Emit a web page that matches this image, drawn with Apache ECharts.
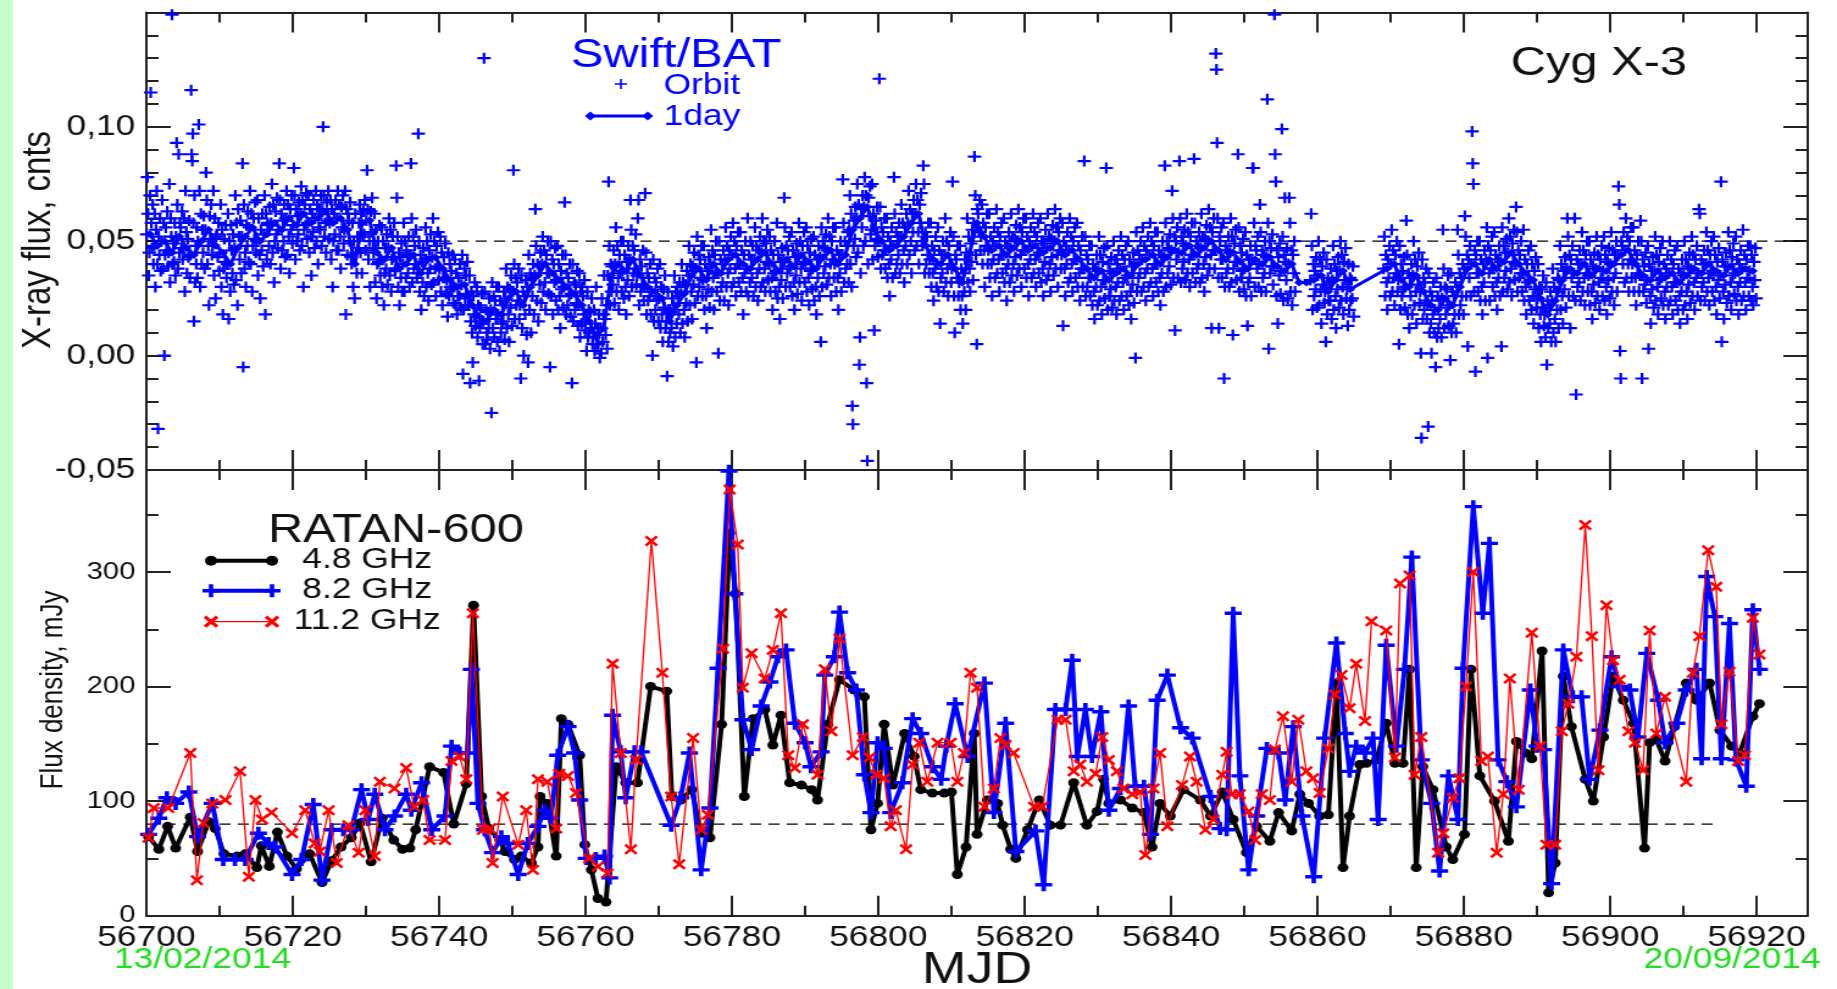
<!DOCTYPE html>
<html>
<head>
<meta charset="utf-8">
<title>Cyg X-3: Swift/BAT and RATAN-600</title>
<script src="https://cdn.jsdelivr.net/npm/echarts@6/dist/echarts.min.js"></script>
<style>
  html, body { margin: 0; padding: 0; background: #fff; overflow: hidden; width: 1837px; height: 989px; }
  /* the figure is laid out on a 1506px wide canvas and widened to the page width */
  #wrap { position: absolute; left: 0; top: 0; width: 1506px; height: 989px; transform: scaleX(1.21979); transform-origin: 0 0; }
  #chart { width: 1506px; height: 989px; }
</style>
</head>
<body>
<div id="wrap"><div id="chart"></div></div>
<script>
// ---------------- data ----------------
const MJD_START = 56700;
const MJD_END = 56927;

// Swift/BAT 1-day averaged flux, 10^-3 cnts, one value per MJD day starting at 56700 (null = no data)
const dailyFlux = [
  53,48,50,45,52,47,44,50,55,48,
  45,40,47,52,56,50,53,58,55,60,
  57,62,58,60,63,58,60,55,40,58,
  59,45,42,47,38,40,44,36,42,43,
  38,33,30,31,22,17,15,20,18,25,
  28,22,30,35,40,36,33,30,27,22,
  15,8,12,35,40,37,42,35,30,28,
  25,15,22,27,35,38,33,40,36,42,
  44,40,38,42,45,40,37,42,39,44,
  41,38,43,46,40,44,55,60,65,55,
  50,46,48,52,58,62,48,42,40,44,
  38,32,45,58,52,46,48,44,47,50,
  46,48,45,47,50,44,46,42,38,34,
  37,33,36,38,35,40,42,44,40,43,
  46,45,48,44,47,50,46,42,45,41,
  38,42,40,43,39,37,40,32,32,33,
  35,28,33,37,29,null,null,null,null,38,
  40,33,30,35,28,22,20,25,22,30,
  38,40,36,42,38,41,45,40,36,33,
  25,18,24,33,38,36,40,35,38,37,
  40,44,46,40,35,33,37,34,36,32,
  35,38,36,40,37,35,39,36,38,37
];

// Swift/BAT single-orbit flux, 10^-3 cnts, grouped by MJD day starting at 56700
const orbitFlux = [
  [53,78,62,35,45,70,115,58,47,66,40],[48,62,30,55,72,40,-32,52,44,60,37],[50,68,38,58,0,44,56,46,63,39],
  [45,75,32,60,52,149,40,49,41,58,35],[52,93,66,38,88,45,58,56,47,63,42],[47,60,28,72,54,36,51,43,59,34],
  [44,116,88,85,97,58,15,70,32,48,40,56,34],[50,101,72,30,62,40,55,45,61,38],[55,80,68,40,48,22,61,51,66,44],
  [48,72,35,60,25,52,53,43,58,37],[45,66,30,55,18,38,51,41,57,34],[40,62,16,50,28,57,46,36,53,31],
  [47,70,33,58,22,64,52,42,59,36],[52,84,-5,66,38,45,30,57,48,63,41],[56,72,40,62,28,48,60,51,67,45],
  [50,68,35,60,44,25,55,46,62,39],[53,70,18,62,42,58,57,48,65,40],[58,75,45,66,32,50,63,53,69,47],
  [55,84,68,38,62,46,59,50,66,43],[60,72,44,66,52,36,64,55,70,49],[57,82,70,42,64,50,61,53,67,46],
  [62,74,48,68,30,55,66,57,71,51],[58,70,45,64,52,35,62,54,68,47],[60,72,50,66,40,56,64,55,70,48],
  [63,100,70,52,58,45,67,59,72,51],[58,68,42,64,30,50,62,53,68,46],[60,72,46,66,52,38,65,56,70,49],
  [55,72,18,64,44,62,59,50,67,43],[40,58,30,50,25,62,45,36,52,47],[58,66,45,62,36,52,63,53,68,46],
  [59,81,64,42,50,30,63,54,69,47],[45,62,32,55,25,40,50,41,57,35],[42,56,30,50,22,36,47,38,53,31],
  [47,60,35,55,28,42,52,43,58,37],[38,83,69,52,30,45,22,43,34,49,28],[40,58,28,50,34,46,44,36,52,30],
  [44,84,60,32,52,38,48,40,55,34],[36,97,50,28,44,20,41,32,47,26],[42,56,30,50,36,24,46,38,53,31],
  [43,60,32,50,38,26,48,39,54,33],[38,52,28,45,22,34,43,34,49,27],[33,17,45,26,40,30,37,29,44,23],
  [30,42,22,36,18,26,34,26,40,21],[31,44,-8,20,38,25,35,27,41,22],[22,35,-12,15,28,10,-3,26,18,32,13],
  [17,30,8,22,-11,12,21,14,27,5],[15,130,28,5,20,10,7,19,12,25,3],[20,-25,32,12,26,8,24,16,30,6],
  [18,30,2,24,10,14,22,15,28,7],[25,38,12,30,18,6,29,21,35,13],[28,81,40,16,34,22,32,24,38,16],
  [22,-10,35,12,28,0,26,18,33,9],[30,-3,44,20,36,10,34,26,40,18],[35,64,48,24,40,15,39,31,45,23],
  [40,52,28,46,32,20,44,36,50,27],[36,-5,50,26,42,18,40,32,47,24],[33,48,20,40,26,12,37,29,44,21],
  [30,67,44,18,36,22,34,26,40,17],[27,-12,40,15,32,20,31,23,37,13],[22,36,8,28,14,30,26,18,33,11],
  [15,2,28,8,20,10,19,12,25,5],[8,20,2,14,30,5,12,5,18,-1],[12,1,25,6,18,35,16,9,22,3],
  [35,76,48,22,40,28,39,31,46,23],[40,56,28,48,34,20,44,36,50,28],[37,50,25,44,30,18,41,33,48,26],
  [42,68,55,30,48,36,46,38,53,31],[35,60,68,22,42,28,39,31,46,24],[30,71,45,18,36,24,34,26,40,18],
  [28,0,42,15,34,20,32,24,38,15],[25,40,12,30,18,6,29,21,35,12],[15,-9,28,6,20,10,19,12,25,4],
  [22,35,8,28,14,30,26,18,32,10],[27,40,14,32,20,8,31,23,37,15],[35,48,22,40,28,16,39,31,45,23],
  [38,-3,52,26,44,30,42,34,48,26],[33,48,20,40,26,12,37,29,43,21],[40,55,28,46,34,20,44,36,50,28],
  [36,1,50,24,42,30,40,32,46,24],[42,56,30,48,36,22,46,38,52,30],[44,58,32,50,38,26,48,40,54,32],
  [40,54,28,46,34,18,44,36,50,28],[38,60,26,44,32,50,42,34,48,26],[42,56,30,48,36,24,46,38,52,30],
  [45,60,32,50,38,28,49,41,55,33],[40,52,28,46,34,20,44,36,50,28],[37,58,25,44,30,16,41,33,47,25],
  [42,69,56,30,48,36,46,38,52,30],[39,54,26,46,32,20,43,35,49,27],[44,58,32,50,38,24,48,40,54,32],
  [41,56,28,48,34,22,45,37,51,29],[38,52,24,44,30,18,42,34,48,26],[43,6,56,30,50,36,47,39,53,31],
  [46,60,34,52,40,26,50,42,56,34],[40,56,28,46,34,20,44,36,50,28],[44,77,58,32,50,38,48,40,54,32],
  [55,70,40,62,30,-22,-30,48,59,51,65,43],[60,75,45,66,-4,8,36,64,56,70,48],[65,78,50,70,-12,-46,40,69,61,74,53],
  [55,75,42,62,11,48,59,51,65,43],[50,121,65,38,56,44,54,46,60,38],[46,60,34,52,40,26,50,42,56,34],
  [48,78,62,36,54,40,52,44,58,36],[52,66,40,58,46,32,56,48,62,40],[58,72,44,64,50,36,62,54,68,46],
  [62,75,48,68,54,40,66,58,71,50],[48,83,75,36,54,40,52,44,58,36],[42,58,30,48,36,24,46,38,52,30],
  [40,56,28,46,14,34,44,36,50,28],[44,60,32,50,38,26,48,40,54,32],[38,76,52,26,10,44,42,34,48,26],
  [32,48,20,38,26,14,36,28,42,20],[45,60,32,52,38,28,49,41,55,33],[58,87,70,44,5,64,62,54,68,46],
  [52,66,40,58,46,30,56,48,62,40],[46,62,34,52,40,26,50,42,56,34],[48,64,36,54,42,28,52,44,58,36],
  [44,60,32,50,38,24,48,40,54,32],[47,62,35,52,40,28,51,43,57,35],[50,64,38,56,44,30,54,46,60,38],
  [46,60,34,52,40,26,50,42,56,34],[48,62,36,54,42,30,52,44,58,36],[45,60,32,50,38,26,49,41,55,33],
  [47,62,35,52,40,28,51,43,57,35],[50,64,38,56,44,30,54,46,60,38],[44,58,13,50,38,26,48,40,54,32],
  [46,60,34,52,40,28,50,42,56,34],[42,58,30,48,36,24,46,38,52,30],[38,85,52,26,44,30,42,34,48,26],
  [34,48,22,40,28,16,38,30,44,22],[37,52,24,44,30,18,41,33,47,25],[33,82,48,20,40,26,37,29,43,21],
  [36,50,24,42,30,18,40,32,46,24],[38,52,26,44,32,20,42,34,48,26],[35,50,22,42,28,16,39,31,45,23],
  [40,-1,54,28,46,34,44,36,50,28],[42,56,30,48,36,24,46,38,52,30],[44,58,32,50,38,26,48,40,54,32],
  [40,54,28,46,34,22,44,36,50,28],[43,83,58,30,50,36,47,39,53,31],[46,72,60,34,52,11,50,42,56,34],
  [45,85,60,32,52,38,49,41,55,33],[48,62,36,54,42,30,52,44,58,36],[44,86,58,32,50,38,48,40,54,32],
  [47,62,34,52,40,28,51,43,57,35],[50,64,38,56,44,12,54,46,60,38],[46,132,125,93,60,34,12,52,50,42,56,34],
  [42,58,-10,30,48,36,46,38,52,30],[45,60,32,52,9,38,49,41,55,33],[41,88,56,28,48,34,45,37,51,29],
  [38,54,26,44,13,32,42,34,48,26],[42,82,82,58,30,48,46,38,52,30],[40,66,54,28,46,34,44,36,50,28],
  [43,112,58,3,50,36,47,39,53,31],[39,149,88,76,26,46,14,43,35,49,27],[37,99,52,24,44,69,41,33,47,25],
  [40,69,58,28,46,22,44,36,50,28],[],[],
  [33,62,48,20,40,26,37,29,43,21],[35,50,22,42,28,14,39,31,45,23],[28,6,42,18,34,24,32,24,38,16],
  [33,48,20,40,26,12,37,29,43,21],[37,50,24,44,30,18,41,33,47,25],[29,13,40,20,34,24,33,25,39,17],
  [],[],[],[],
  [38,52,26,44,32,20,42,34,48,26],[40,55,28,46,34,22,44,36,50,28],[33,5,48,20,40,26,37,29,43,21],
  [30,59,44,18,36,12,34,26,40,18],[35,50,22,42,28,14,39,31,45,23],[28,1,-36,42,16,34,20,32,24,38,16],
  [22,-31,36,10,28,14,1,26,18,32,10],[20,-5,34,8,26,12,24,16,30,8],[25,55,38,12,30,18,29,21,35,13],
  [22,-2,36,10,28,14,26,18,32,10],[30,55,44,18,36,22,34,26,40,18],[38,61,52,26,44,4,42,34,48,26],
  [40,98,84,75,28,46,-7,44,36,50,28],[36,50,24,42,30,18,40,32,46,24],[42,56,-1,48,36,24,46,38,52,30],
  [38,54,26,44,32,20,42,34,48,26],[41,4,56,28,48,34,45,37,51,29],[45,60,32,52,38,26,49,41,55,33],
  [40,65,54,28,46,34,44,36,50,28],[36,55,24,42,30,18,40,32,46,24],[33,48,20,40,26,14,37,29,43,21],
  [25,40,12,30,18,6,29,21,35,13],[18,8,32,-4,24,12,22,14,28,6],[24,38,10,30,16,6,28,20,34,12],
  [33,48,20,40,26,14,37,29,43,21],[38,60,52,26,44,12,42,34,48,26],[36,60,24,-17,42,30,40,32,46,24],
  [40,54,28,46,34,22,44,36,50,28],[35,50,22,42,28,16,39,31,45,23],[38,52,26,44,32,20,42,34,48,26],
  [37,52,24,44,30,18,41,33,47,25],[40,54,28,46,34,22,44,36,50,28],[44,74,66,2,-10,50,48,40,54,32],
  [46,60,34,52,40,28,50,42,56,34],[40,56,28,46,34,22,44,36,50,28],[35,59,50,-10,42,28,39,31,45,23],
  [33,48,3,40,26,14,37,29,43,21],[37,52,24,44,30,18,41,33,47,25],[34,50,22,40,28,16,38,30,44,22],
  [36,50,24,42,30,18,40,32,46,24],[32,48,20,38,26,14,36,28,42,20],[35,50,22,42,28,16,39,31,45,23],
  [38,52,26,44,32,20,42,34,48,26],[36,64,62,24,42,30,40,32,46,24],[40,54,28,46,34,22,44,36,50,28],
  [37,52,24,44,30,18,41,33,47,25],[35,76,6,42,28,16,39,31,45,23],[39,54,26,46,32,20,43,35,49,27],
  [36,52,24,42,30,18,40,32,46,24],[38,55,26,44,32,20,42,34,48,26],[37,48,24,44,30,22,41,33,47,25]
];

// RATAN-600 flux density, [MJD, mJy]
const ratan48 = [
  [56700.3,69],[56701.7,58],[56702.9,78],[56704.0,59],[56706.0,86],[56707.0,56],[56708.5,82],[56709.4,76],
  [56710.6,54],[56712.4,52],[56713.5,54],[56715.1,42],[56715.7,61],[56716.8,43],[56717.9,73],[56719.2,52],
  [56720.5,41],[56722.3,54],[56724.0,29],[56725.3,48],[56726.6,60],[56728.0,68],[56729.2,81],[56730.7,47],
  [56732.2,85],[56733.8,66],[56735.0,58],[56736.0,59],[56736.8,75],[56738.7,130],[56740.6,125],[56742.0,80],
  [56743.7,115],[56744.7,271],[56745.8,104],[56746.8,76],[56748.3,66],[56749.0,56],[56750.3,49],[56751.2,52],
  [56752.6,46],[56753.5,60],[56753.8,104],[56754.8,98],[56756.0,52],[56756.7,172],[56757.6,167],[56759.2,140],
  [56759.9,62],[56760.8,40],[56761.7,15],[56762.8,12],[56764.2,130],[56765.5,116],[56767.1,116],[56768.9,200],
  [56771.1,196],[56771.8,104],[56773.0,101],[56774.5,110],[56775.8,72],[56777.0,68],[56778.6,167],[56779.7,334],
  [56780.5,281],[56781.7,104],[56782.9,172],[56784.5,180],[56785.6,149],[56786.7,175],[56787.9,116],[56789.5,114],
  [56790.9,110],[56791.7,101],[56793.1,167],[56794.7,206],[56796.7,197],[56798.1,191],[56799.0,75],[56799.9,98],
  [56800.8,167],[56802.0,114],[56803.6,159],[56804.9,139],[56805.8,110],[56807.4,107],[56809.0,107],[56810.0,108],
  [56810.8,36],[56812.0,60],[56813.1,159],[56813.5,71],[56814.9,101],[56816.3,98],[56817.0,79],[56818.1,58],
  [56818.8,50],[56820.4,75],[56822.0,101],[56823.5,79],[56824.9,79],[56826.7,116],[56828.5,79],[56829.9,91],
  [56830.8,119],[56831.5,98],[56833.1,101],[56834.7,94],[56836.3,90],[56837.4,60],[56838.5,98],[56839.9,87],
  [56841.7,110],[56844.0,101],[56845.4,87],[56847.0,108],[56848.5,84],[56850.3,55],[56851.7,78],[56853.5,65],
  [56854.7,90],[56856.5,74],[56857.6,106],[56858.8,98],[56860.3,87],[56861.5,88],[56862.6,203],[56863.5,42],
  [56864.4,87],[56865.8,132],[56866.7,133],[56868.1,136],[56869.4,168],[56870.6,133],[56871.7,133],[56872.6,215],
  [56873.5,42],[56874.4,130],[56875.8,110],[56877.6,60],[56878.5,49],[56880.1,71],[56881.0,215],[56882.2,122],
  [56884.2,100],[56886.1,65],[56887.2,152],[56888.4,142],[56889.3,137],[56890.7,231],[56891.6,20],[56892.5,46],
  [56893.6,209],[56894.7,165],[56896.6,119],[56897.7,100],[56899.1,156],[56900.4,209],[56901.8,188],[56903.2,168],
  [56904.7,59],[56905.4,151],[56906.3,154],[56907.5,135],[56908.8,165],[56910.4,203],[56911.8,188],[56913.6,203],
  [56915.0,162],[56916.6,148],[56917.7,142],[56919.5,174],[56920.4,185]
];
const ratan82 = [
  [56700.3,71],[56701.7,85],[56702.8,103],[56704.0,98],[56705.8,108],[56707.0,69],[56709.0,98],[56710.5,49],
  [56712.1,49],[56713.5,49],[56715.3,72],[56716.7,63],[56717.6,60],[56719.9,36],[56721.2,49],[56722.8,97],
  [56724.0,31],[56725.3,75],[56726.9,75],[56728.0,75],[56729.4,110],[56730.3,84],[56731.2,106],[56732.6,75],
  [56733.9,87],[56735.5,106],[56736.2,92],[56737.6,116],[56739.0,75],[56740.8,87],[56741.7,148],[56742.8,142],
  [56743.9,142],[56744.4,215],[56745.3,98],[56746.2,75],[56747.3,55],[56748.5,69],[56749.4,63],[56750.8,36],
  [56752.1,63],[56753.5,78],[56754.4,92],[56755.3,85],[56756.2,140],[56757.6,165],[56758.5,142],[56759.2,101],
  [56760.1,50],[56761.4,50],[56762.6,52],[56763.3,33],[56763.7,175],[56764.8,143],[56765.5,103],[56766.7,143],
  [56767.6,143],[56771.7,79],[56773.0,103],[56774.2,142],[56775.8,40],[56777.0,94],[56778.1,216],[56779.6,388],
  [56780.4,281],[56781.5,171],[56782.7,145],[56784.0,183],[56785.2,204],[56786.3,226],[56787.4,232],[56788.6,168],
  [56790.0,151],[56790.8,130],[56792.2,143],[56792.7,210],[56794.0,226],[56794.7,265],[56795.8,212],[56797.0,197],
  [56798.1,123],[56799.0,90],[56799.9,151],[56800.8,146],[56801.7,90],[56803.3,116],[56804.7,172],[56805.8,159],
  [56807.4,130],[56808.6,119],[56809.3,148],[56810.5,185],[56812.2,139],[56814.5,203],[56815.8,90],[56817.4,168],
  [56818.8,56],[56821.5,74],[56822.6,27],[56824.2,180],[56825.6,180],[56826.5,223],[56827.2,139],[56828.3,180],
  [56829.2,139],[56830.4,178],[56831.5,92],[56833.1,111],[56834.2,183],[56835.1,113],[56836.3,113],[56837.2,71],
  [56838.1,188],[56839.5,210],[56841.3,164],[56842.9,155],[56845.4,104],[56846.7,76],[56847.6,75],[56848.5,264],
  [56849.4,122],[56850.6,40],[56851.7,87],[56853.1,146],[56854.7,142],[56855.6,101],[56856.7,165],[56857.9,87],
  [56859.5,34],[56861.0,155],[56862.6,238],[56863.8,159],[56864.4,126],[56865.3,148],[56866.5,142],[56867.6,155],
  [56868.3,84],[56869.4,236],[56870.8,148],[56871.9,215],[56872.9,313],[56874.2,136],[56875.6,98],[56876.7,39],
  [56877.9,122],[56879.2,84],[56879.9,216],[56881.3,357],[56882.6,264],[56883.5,325],[56884.7,136],[56885.9,117],
  [56887.2,95],[56889.1,197],[56890.0,148],[56890.9,145],[56892.0,28],[56893.6,232],[56894.9,191],[56896.1,191],
  [56897.2,119],[56898.6,162],[56900.2,226],[56901.3,200],[56902.7,197],[56903.8,156],[56905.0,229],[56906.6,188],
  [56907.5,151],[56909.1,168],[56910.4,197],[56911.8,215],[56912.5,137],[56913.2,296],[56914.3,261],[56915.2,137],
  [56916.3,255],[56917.2,136],[56918.6,113],[56919.5,267],[56920.4,215]
];
const ratan112 = [
  [56700.3,68],[56701.0,94],[56703.0,94],[56706.0,142],[56706.9,31],[56707.8,81],[56709.0,98],[56710.8,101],
  [56712.8,126],[56714.0,34],[56714.9,101],[56715.8,84],[56717.1,90],[56719.9,72],[56721.7,92],[56723.0,63],
  [56723.7,56],[56724.9,92],[56726.0,46],[56727.6,79],[56729.0,55],[56729.9,92],[56731.2,52],[56731.9,117],
  [56733.9,111],[56735.5,129],[56736.6,95],[56737.8,101],[56738.7,66],[56740.8,66],[56741.7,135],[56742.8,139],
  [56743.7,119],[56744.6,264],[56746.0,75],[56746.9,76],[56747.3,46],[56748.7,104],[56750.8,62],[56751.9,92],
  [56752.8,40],[56753.5,119],[56754.8,117],[56756.0,76],[56756.4,124],[56757.6,122],[56758.7,107],[56760.5,50],
  [56761.7,43],[56763.0,37],[56763.7,220],[56764.8,142],[56766.2,58],[56766.9,136],[56769.0,327],[56770.5,212],
  [56771.7,104],[56772.8,45],[56774.7,155],[56775.8,75],[56776.7,88],[56778.8,233],[56779.7,372],[56780.8,324],
  [56781.5,199],[56782.7,229],[56784.5,207],[56785.6,232],[56786.7,264],[56787.7,140],[56788.6,129],[56789.7,167],
  [56791.7,123],[56792.7,215],[56793.6,161],[56794.7,242],[56796.5,140],[56797.9,156],[56798.8,138],[56799.7,123],
  [56800.8,120],[56801.7,78],[56802.4,92],[56803.8,58],[56804.7,132],[56805.6,151],[56806.7,117],[56808.1,151],
  [56809.9,151],[56810.8,117],[56811.7,142],[56812.6,212],[56813.5,199],[56814.5,95],[56815.8,111],[56816.7,155],
  [56817.4,149],[56818.5,142],[56821.3,95],[56822.4,95],[56824.5,171],[56825.6,171],[56826.7,126],[56827.6,132],
  [56828.5,117],[56829.7,124],[56830.6,156],[56831.5,136],[56832.6,126],[56833.5,111],[56834.7,106],[56835.8,108],
  [56836.5,53],[56837.6,111],[56838.5,142],[56839.5,78],[56841.5,114],[56842.6,139],[56843.5,117],[56844.7,75],
  [56845.8,84],[56847.0,123],[56847.6,143],[56848.3,106],[56849.4,106],[56850.6,91],[56851.5,66],[56852.4,106],
  [56853.5,101],[56854.2,145],[56855.3,174],[56856.5,117],[56857.4,171],[56858.5,126],[56859.4,120],[56860.3,107],
  [56861.5,146],[56862.4,193],[56863.3,210],[56864.4,181],[56865.3,220],[56866.5,170],[56867.4,257],[56869.4,249],
  [56870.6,138],[56871.3,290],[56872.6,297],[56873.3,123],[56874.2,156],[56876.5,55],[56877.2,72],[56878.5,103],
  [56879.4,120],[56880.3,200],[56881.3,300],[56882.4,135],[56883.3,139],[56884.5,55],[56885.4,106],[56886.3,207],
  [56887.5,110],[56889.3,247],[56890.4,148],[56891.3,62],[56892.5,62],[56893.4,161],[56894.3,185],[56895.4,226],
  [56896.6,341],[56897.5,244],[56898.4,127],[56899.5,271],[56900.4,223],[56901.3,206],[56902.5,161],[56903.4,151],
  [56904.5,127],[56905.4,249],[56906.3,159],[56907.5,191],[56910.4,117],[56911.3,212],[56912.2,244],[56913.4,319],
  [56914.5,287],[56915.2,167],[56916.3,213],[56917.5,135],[56918.4,140],[56919.5,260],[56920.4,228]
];

// reference levels
const xrayRefLevel = 0.05;
const radioRefLevel = 80;
const radioRefEnd = 56915;

// ---------------- styling ----------------
const FONT = '"Liberation Sans", Arial, Helvetica, sans-serif';
const INK = '#111';
const FRAME = '#222';
const BLUE = '#0000ff';
const RED = '#ff0000';
const GREEN = '#22dd22';

const PLUS_ORBIT = 'path://M4,0H6V4H10V6H6V10H4V6H0V4H4Z';
const PLUS_BOLD = 'path://M3.7,0H6.3V3.7H10V6.3H6.3V10H3.7V6.3H0V3.7H3.7Z';
const CROSS_BOLD = 'path://M0,1.6L1.6,0L5,3.4L8.4,0L10,1.6L6.6,5L10,8.4L8.4,10L5,6.6L1.6,10L0,8.4L3.4,5Z';

// panel layout (canvas px)
const GRID_LEFT = 120, GRID_RIGHT = 24;
const TOP_PANEL = { top: 12.4, height: 457.6 };
const BOT_PANEL = { top: 470, height: 445.7 };

// ---------------- series data ----------------
const orbitPoints = [];
orbitFlux.forEach((vals, i) => {
  vals.forEach((v, k) => {
    orbitPoints.push([MJD_START + i + (k + 0.5) / vals.length, v / 1000]);
  });
});
const dailyPoints = dailyFlux.map((v, i) => [MJD_START + i + 0.5, v == null ? null : v / 1000]);

// ---------------- axes ----------------
function axis(grid, pos, min, max, interval, tickLen, main, label) {
  return {
    type: 'value', gridIndex: grid, position: pos, min: min, max: max, interval: interval,
    axisLine: { show: main, onZero: false, lineStyle: { color: FRAME, width: 2 } },
    axisTick: { show: true, inside: true, length: tickLen, lineStyle: { color: FRAME, width: 2 } },
    axisLabel: label ? Object.assign({ show: true, color: INK, fontFamily: FONT }, label) : { show: false },
    splitLine: { show: false },
    minorTick: { show: false },
    axisPointer: { show: false }
  };
}
const mjdLabel = {
  fontSize: 29, margin: 8,
  formatter: v => (Math.round(v) % 20 === 0 && Math.abs(v - Math.round(v)) < 1e-6) ? String(Math.round(v)) : ''
};
const xrayLabel = {
  fontSize: 29, margin: 9,
  formatter: v => {
    const r = Math.round(v * 100) / 100;
    if (r > 0.14) return '';
    return (r === 0 ? 0 : r).toFixed(2).replace('.', ',');
  }
};
const radioLabel = {
  fontSize: 24, margin: 9,
  formatter: v => (Math.round(v) % 100 === 0 && Math.abs(v - Math.round(v)) < 1e-6) ? String(Math.round(v)) : ''
};

const xAxes = [
  axis(0, 'bottom', MJD_START, MJD_END, 20, 20, true, null),
  axis(0, 'bottom', MJD_START, MJD_END, 10, 10, false, null),
  axis(0, 'top', MJD_START, MJD_END, 20, 20, true, null),
  axis(0, 'top', MJD_START, MJD_END, 10, 10, false, null),
  axis(1, 'bottom', MJD_START, MJD_END, 20, 20, true, mjdLabel),
  axis(1, 'bottom', MJD_START, MJD_END, 10, 10, false, null),
  axis(1, 'top', MJD_START, MJD_END, 20, 20, true, null),
  axis(1, 'top', MJD_START, MJD_END, 10, 10, false, null)
];
const yAxes = [
  axis(0, 'left', -0.05, 0.15, 0.05, 20, true, xrayLabel),
  axis(0, 'left', -0.05, 0.15, 0.01, 10, false, null),
  axis(0, 'right', -0.05, 0.15, 0.05, 20, true, null),
  axis(0, 'right', -0.05, 0.15, 0.01, 10, false, null),
  axis(1, 'left', 0, 389, 100, 20, true, radioLabel),
  axis(1, 'left', 0, 389, 50, 10, false, null),
  axis(1, 'right', 0, 389, 100, 20, true, null),
  axis(1, 'right', 0, 389, 50, 10, false, null)
];

// ---------------- legend and titles ----------------
function plusPts(cx, cy, w, h, t) {
  const a = w / 2, b = h / 2, tx = w * t, ty = h * t;
  return [[cx - tx, cy - b], [cx + tx, cy - b], [cx + tx, cy - ty], [cx + a, cy - ty], [cx + a, cy + ty],
          [cx + tx, cy + ty], [cx + tx, cy + b], [cx - tx, cy + b], [cx - tx, cy + ty], [cx - a, cy + ty],
          [cx - a, cy - ty], [cx - tx, cy - ty]];
}
function crossPts(cx, cy, s, t) {
  const w = s * Math.SQRT2;
  const c = Math.SQRT1_2;
  return plusPts(0, 0, w, w, t).map(([x, y]) => [cx + (x - y) * c, cy + (x + y) * c]);
}
function txt(x, y, text, size, color, align, rot) {
  const el = {
    type: 'text', x: x, y: y, silent: true,
    style: {
      text: text, fontSize: size, fontFamily: FONT, fill: color,
      textAlign: align, textVerticalAlign: 'middle', align: align, verticalAlign: 'middle'
    }
  };
  if (rot) el.rotation = rot;
  return el;
}
function seg(x1, x2, y, color, width) {
  return { type: 'line', silent: true, shape: { x1: x1, y1: y, x2: x2, y2: y }, style: { stroke: color, lineWidth: width } };
}
function poly(points, color) {
  return { type: 'polygon', silent: true, shape: { points: points }, style: { fill: color } };
}
function diamond(cx, cy, r, color) {
  return poly([[cx, cy - r], [cx + r, cy], [cx, cy + r], [cx - r, cy]], color);
}

const LX1 = 173, LX2 = 223;
const graphics = [
  { type: 'rect', silent: true, shape: { x: 0, y: 0, width: 10.7, height: 989 }, style: { fill: '#c8fcc8' } },

  txt(32, 240, 'X-ray flux, cnts', 33, INK, 'center', Math.PI / 2),
  txt(43.5, 690, 'Flux density, mJy', 26, INK, 'center', Math.PI / 2),
  txt(801, 971, 'MJD', 44, INK, 'center'),
  txt(93.4, 960, '13/02/2014', 29, GREEN, 'left'),
  txt(1492.6, 960, '20/09/2014', 29, GREEN, 'right'),

  txt(468, 56, 'Swift/BAT', 40, BLUE, 'left'),
  poly(plusPts(509, 84, 10, 10, 0.08), BLUE),
  txt(544, 86, 'Orbit', 29, BLUE, 'left'),
  seg(484, 531, 116, BLUE, 3),
  diamond(484, 116, 4.5, BLUE),
  diamond(531, 116, 4.5, BLUE),
  txt(544, 117, '1day', 29, BLUE, 'left'),

  txt(1238.5, 64, 'Cyg X-3', 40, INK, 'left'),

  txt(219.7, 531, 'RATAN-600', 40, INK, 'left'),
  seg(LX1, LX2, 560.7, '#000', 4),
  { type: 'circle', silent: true, shape: { cx: LX1, cy: 560.7, r: 5 }, style: { fill: '#000' } },
  { type: 'circle', silent: true, shape: { cx: LX2, cy: 560.7, r: 5 }, style: { fill: '#000' } },
  txt(301, 560, '4.8 GHz', 29, INK, 'center'),
  seg(LX1, LX2, 590.7, BLUE, 4),
  poly(plusPts(LX1, 590.7, 14, 13, 0.13), BLUE),
  poly(plusPts(LX2, 590.7, 14, 13, 0.13), BLUE),
  txt(301, 590, '8.2 GHz', 29, INK, 'center'),
  seg(LX1, LX2, 621.7, RED, 1.3),
  poly(crossPts(LX1, 621.7, 10, 0.11), RED),
  poly(crossPts(LX2, 621.7, 10, 0.11), RED),
  txt(301, 621, '11.2 GHz', 29, INK, 'center')
];

// ---------------- chart ----------------
const chart = echarts.init(document.getElementById('chart'), null, { renderer: 'canvas', width: 1506, height: 989 });
chart.setOption({
  animation: false,
  backgroundColor: '#ffffff',
  grid: [
    { left: GRID_LEFT, right: GRID_RIGHT, top: TOP_PANEL.top, height: TOP_PANEL.height, containLabel: false, outerBoundsMode: 'none' },
    { left: GRID_LEFT, right: GRID_RIGHT, top: BOT_PANEL.top, height: BOT_PANEL.height, containLabel: false, outerBoundsMode: 'none' }
  ],
  xAxis: xAxes,
  yAxis: yAxes,
  graphic: { elements: graphics },
  series: [
    {
      name: 'X-ray reference', type: 'line', xAxisIndex: 0, yAxisIndex: 0, z: 1,
      data: [[MJD_START, xrayRefLevel], [MJD_END, xrayRefLevel]],
      symbol: 'none', silent: true,
      lineStyle: { color: '#000', width: 1.3, type: [9, 6] }
    },
    {
      name: 'Orbit', type: 'scatter', xAxisIndex: 0, yAxisIndex: 0, z: 2,
      data: orbitPoints, symbol: PLUS_ORBIT, symbolSize: [11, 11],
      itemStyle: { color: BLUE, opacity: 1 }, silent: true
    },
    {
      name: '1day', type: 'line', xAxisIndex: 0, yAxisIndex: 0, z: 3,
      data: dailyPoints, connectNulls: true, showAllSymbol: true,
      symbol: 'diamond', symbolSize: 8,
      lineStyle: { color: BLUE, width: 3 }, itemStyle: { color: BLUE }, silent: true
    },
    {
      name: 'Radio reference', type: 'line', xAxisIndex: 4, yAxisIndex: 4, z: 1,
      data: [[MJD_START, radioRefLevel], [radioRefEnd, radioRefLevel]],
      symbol: 'none', silent: true,
      lineStyle: { color: '#000', width: 1.3, type: [9, 6] }
    },
    {
      name: '4.8 GHz', type: 'line', xAxisIndex: 4, yAxisIndex: 4, z: 3,
      data: ratan48, showAllSymbol: true, symbol: 'circle', symbolSize: 9,
      lineStyle: { color: '#000', width: 4 }, itemStyle: { color: '#000' }, silent: true
    },
    {
      name: '8.2 GHz', type: 'line', xAxisIndex: 4, yAxisIndex: 4, z: 4,
      data: ratan82, showAllSymbol: true, symbol: PLUS_BOLD, symbolSize: [14, 13],
      lineStyle: { color: BLUE, width: 4 }, itemStyle: { color: BLUE }, silent: true
    },
    {
      name: '11.2 GHz', type: 'line', xAxisIndex: 4, yAxisIndex: 4, z: 5,
      data: ratan112, showAllSymbol: true, symbol: CROSS_BOLD, symbolSize: [11, 11],
      lineStyle: { color: RED, width: 1.3 }, itemStyle: { color: RED }, silent: true
    }
  ]
});
</script>
</body>
</html>
